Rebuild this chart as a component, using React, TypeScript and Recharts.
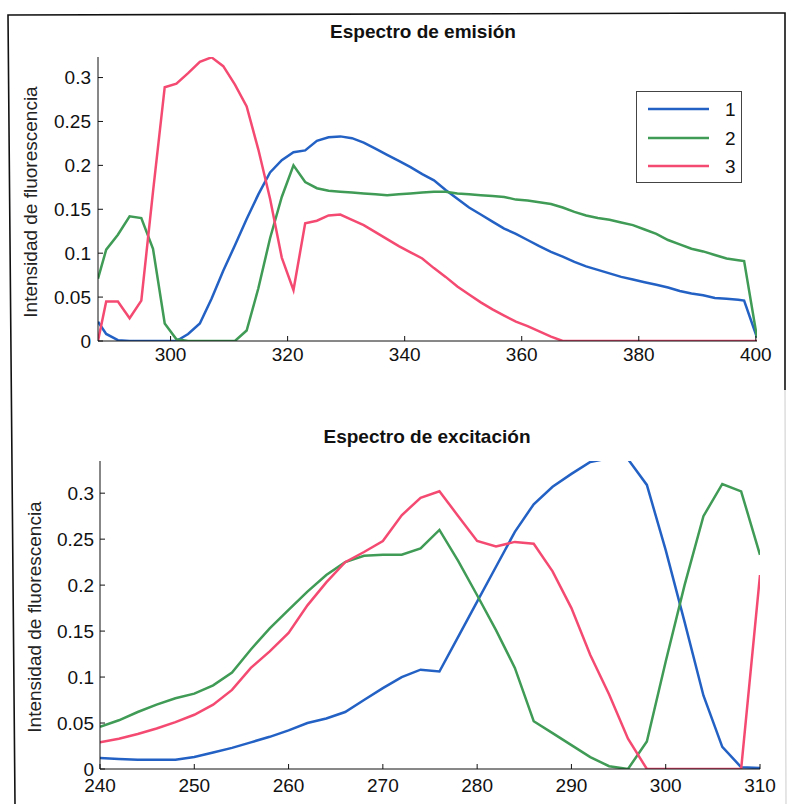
import { LineChart, Line, XAxis, YAxis, Legend } from "recharts";

// Espectro de emisión (top panel)
const emissionX = [
  287.6, 289, 291, 293, 295, 297, 299, 301, 303, 305,
  307, 309, 311, 313, 315, 317, 319, 321, 323, 325,
  327, 329, 331, 333, 335, 337, 339, 341, 343, 345,
  347, 349, 351, 353, 355, 357, 359, 361, 363, 365,
  367, 369, 371, 373, 375, 377, 379, 381, 383, 385,
  387, 389, 391, 393, 395, 397, 398, 400.2,
];
const emission1 = [
  0.022, 0.008, 0.001, 0, 0, 0, 0, 0, 0.008, 0.02,
  0.048, 0.08, 0.109, 0.139, 0.167, 0.192, 0.206, 0.215, 0.217, 0.228,
  0.232, 0.233, 0.231, 0.226, 0.219, 0.212, 0.205, 0.198, 0.19, 0.183,
  0.172, 0.162, 0.152, 0.144, 0.136, 0.128, 0.122, 0.115, 0.108, 0.1015,
  0.096, 0.09, 0.085, 0.081, 0.077, 0.073, 0.07, 0.067, 0.064, 0.061,
  0.057, 0.054, 0.052, 0.049, 0.048, 0.047, 0.046, 0.004,
];
const emission2 = [
  0.071, 0.104, 0.121, 0.142, 0.14, 0.105, 0.02, 0.002, 0, 0,
  0, 0, 0, 0.012, 0.06, 0.117, 0.164, 0.2, 0.181, 0.174,
  0.171, 0.17, 0.169, 0.168, 0.167, 0.166, 0.167, 0.168, 0.169, 0.17,
  0.17, 0.168, 0.167, 0.166, 0.165, 0.164, 0.161, 0.16, 0.158, 0.156,
  0.152, 0.147, 0.143, 0.14, 0.138, 0.135, 0.132, 0.127, 0.122, 0.115,
  0.11, 0.105, 0.102, 0.098, 0.094, 0.092, 0.091, 0.004,
];
const emission3 = [
  0, 0.045, 0.045, 0.026, 0.046, 0.17, 0.289, 0.293, 0.305, 0.318,
  0.323, 0.313, 0.292, 0.267, 0.218, 0.162, 0.095, 0.058, 0.134, 0.137,
  0.143, 0.144, 0.138, 0.132, 0.124, 0.116, 0.108, 0.101, 0.094, 0.083,
  0.073, 0.062, 0.053, 0.044, 0.036, 0.029, 0.022, 0.017, 0.011, 0.005,
  0, 0, 0, 0, 0, 0, 0, 0, 0, 0,
  0, 0, 0, 0, 0, 0, 0, 0,
];

// Espectro de excitación (bottom panel)
const excitationX = [
  240, 242, 244, 246, 248, 250, 252, 254, 256, 258,
  260, 262, 264, 266, 268, 270, 272, 274, 276, 278,
  280, 282, 284, 286, 288, 290, 292, 294, 296, 298,
  300, 302, 304, 306, 308, 310,
];
const excitation1 = [
  0.012, 0.011, 0.01, 0.01, 0.01, 0.013, 0.018, 0.023, 0.029, 0.035,
  0.042, 0.05, 0.055, 0.062, 0.075, 0.088, 0.1, 0.108, 0.106, 0.144,
  0.182, 0.22, 0.258, 0.288, 0.307, 0.321, 0.334, 0.338, 0.337, 0.309,
  0.238, 0.16, 0.08, 0.024, 0.002, 0.001,
];
const excitation2 = [
  0.046, 0.053, 0.062, 0.07, 0.077, 0.082, 0.091, 0.105, 0.13, 0.153,
  0.173, 0.193, 0.211, 0.225, 0.232, 0.233, 0.233, 0.24, 0.26, 0.226,
  0.189, 0.151, 0.11, 0.052, 0.039, 0.026, 0.013, 0.003, 0, 0.03,
  0.117, 0.2, 0.275, 0.31, 0.302, 0.233,
];
const excitation3 = [
  0.029, 0.033, 0.038, 0.044, 0.051, 0.059, 0.07, 0.086, 0.11, 0.128,
  0.148, 0.178, 0.203, 0.225, 0.236, 0.248, 0.276, 0.295, 0.302, 0.275,
  0.248, 0.242, 0.247, 0.245, 0.215, 0.175, 0.124, 0.081, 0.033, 0,
  0, 0, 0, 0, 0, 0.211,
];

const emissionTicks = [300, 320, 340, 360, 380, 400];
const excitationTicks = [240, 250, 260, 270, 280, 290, 300, 310];
const intensityTicks = [0, 0.05, 0.1, 0.15, 0.2, 0.25, 0.3];

const seriesNames = ["1", "2", "3"];
const seriesColors = ["#2361c4", "#3f9b55", "#f44a72"];

const FONT = "'Liberation Sans', Arial, Helvetica, sans-serif";
const INK = "#111";

const toRows = (xs: number[], a: number[], b: number[], c: number[]) =>
  xs.map((x, i) => ({ x, s1: a[i], s2: b[i], s3: c[i] }));

const emissionData = toRows(emissionX, emission1, emission2, emission3);
const excitationData = toRows(excitationX, excitation1, excitation2, excitation3);

const noTick = () => <g />;

function LegendBox(props: any) {
  const items = props.payload || [];
  return (
    <div
      style={{
        width: 106,
        height: 92,
        boxSizing: "border-box",
        border: "1px solid #444",
        background: "#fff",
        position: "relative",
        fontFamily: FONT,
      }}
    >
      {items.map((it: any, i: number) => (
        <div
          key={it.value}
          style={{ position: "absolute", left: 0, top: 3 + i * 28.5, height: 28, width: 104 }}
        >
          <svg width={104} height={28} style={{ position: "absolute", left: 0, top: 0 }}>
            <line x1={11} x2={72} y1={14} y2={14} stroke={it.color} strokeWidth={2.5} />
            <text x={88} y={21} fontSize={19} fill={INK} fontFamily={FONT}>
              {it.value}
            </text>
          </svg>
        </div>
      ))}
    </div>
  );
}

type PanelProps = {
  data: { x: number; s1: number; s2: number; s3: number }[];
  xDomain: [number, number];
  xTicks: number[];
  yMax: number;
  height: number;
  margin: { top: number; right: number; bottom: number; left: number };
  xTickMargin: number;
  yTickMargin: number;
  legend?: boolean;
};

function SpectrumPanel({ data, xDomain, xTicks, yMax, height, margin, xTickMargin, yTickMargin, legend }: PanelProps) {
  const tickStyle = { fill: INK, fontSize: 19, fontFamily: FONT };
  return (
    <LineChart width={787} height={height} data={data} margin={margin} style={{ fontFamily: FONT }}>
      <XAxis
        dataKey="x"
        type="number"
        domain={xDomain}
        ticks={xTicks}
        interval={0}
        allowDataOverflow
        tickSize={-5}
        tickMargin={xTickMargin}
        height={30}
        stroke={INK}
        tick={tickStyle}
      />
      <XAxis
        xAxisId="top"
        orientation="top"
        type="number"
        domain={xDomain}
        ticks={xTicks}
        interval={0}
        allowDataOverflow
        tickSize={-5}
        height={0}
        stroke={INK}
        tick={noTick}
      />
      <YAxis
        type="number"
        domain={[0, yMax]}
        ticks={intensityTicks}
        interval={0}
        allowDataOverflow
        tickSize={-5}
        tickMargin={yTickMargin}
        width={60}
        stroke={INK}
        tick={tickStyle}
      />
      <YAxis
        yAxisId="right"
        orientation="right"
        type="number"
        domain={[0, yMax]}
        ticks={intensityTicks}
        interval={0}
        allowDataOverflow
        tickSize={-5}
        width={0}
        stroke={INK}
        tick={noTick}
      />
      {legend && (
        <Legend
          layout="horizontal"
          verticalAlign="middle"
          align="center"
          content={LegendBox}
          wrapperStyle={{ left: 636, top: 91, width: 106, height: 92 }}
        />
      )}
      {["s1", "s2", "s3"].map((key, i) => (
        <Line
          key={key}
          dataKey={key}
          name={seriesNames[i]}
          type="linear"
          stroke={seriesColors[i]}
          strokeWidth={2.5}
          dot={false}
          activeDot={false}
          isAnimationActive={false}
        />
      ))}
    </LineChart>
  );
}

export default function App() {
  return (
    <div
      style={{
        position: "absolute",
        left: 0,
        top: 0,
        width: 787,
        height: 804,
        background: "#fff",
        overflow: "hidden",
        fontFamily: FONT,
      }}
    >
      <div style={{ position: "absolute", left: 0, top: 0 }}>
        <SpectrumPanel
          data={emissionData}
          xDomain={[287.6, 400.2]}
          xTicks={emissionTicks}
          yMax={0.3234}
          height={380}
          margin={{ top: 57, right: 30, bottom: 9, left: 38 }}
          xTickMargin={12}
          yTickMargin={12}
          legend
        />
      </div>
      <div style={{ position: "absolute", left: 0, top: 390 }}>
        <SpectrumPanel
          data={excitationData}
          xDomain={[240, 310]}
          xTicks={excitationTicks}
          yMax={0.335}
          height={414}
          margin={{ top: 71, right: 27, bottom: 5, left: 40 }}
          xTickMargin={15}
          yTickMargin={11}
        />
      </div>
      <svg
        width={787}
        height={804}
        style={{ position: "absolute", left: 0, top: 0, pointerEvents: "none" }}
      >
        <polyline points="15,804 8,15 785,13 785,390" fill="none" stroke={INK} strokeWidth={1.6} />
        <line x1={785} y1={390} x2={786} y2={804} stroke="#ccc" strokeWidth={1} />
        <text x={423} y={38} textAnchor="middle" fontSize={19} fontWeight="bold" fill={INK} fontFamily={FONT}>
          Espectro de emisión
        </text>
        <text x={427} y={443} textAnchor="middle" fontSize={19} fontWeight="bold" fill={INK} fontFamily={FONT}>
          Espectro de excitación
        </text>
        <text
          x={37}
          y={202}
          transform="rotate(-90 37 202)"
          textAnchor="middle"
          fontSize={19}
          fill="#222"
          fontFamily={FONT}
        >
          Intensidad de fluorescencia
        </text>
        <text
          x={41}
          y={617}
          transform="rotate(-90 41 617)"
          textAnchor="middle"
          fontSize={19}
          fill="#222"
          fontFamily={FONT}
        >
          Intensidad de fluorescencia
        </text>
      </svg>
    </div>
  );
}
